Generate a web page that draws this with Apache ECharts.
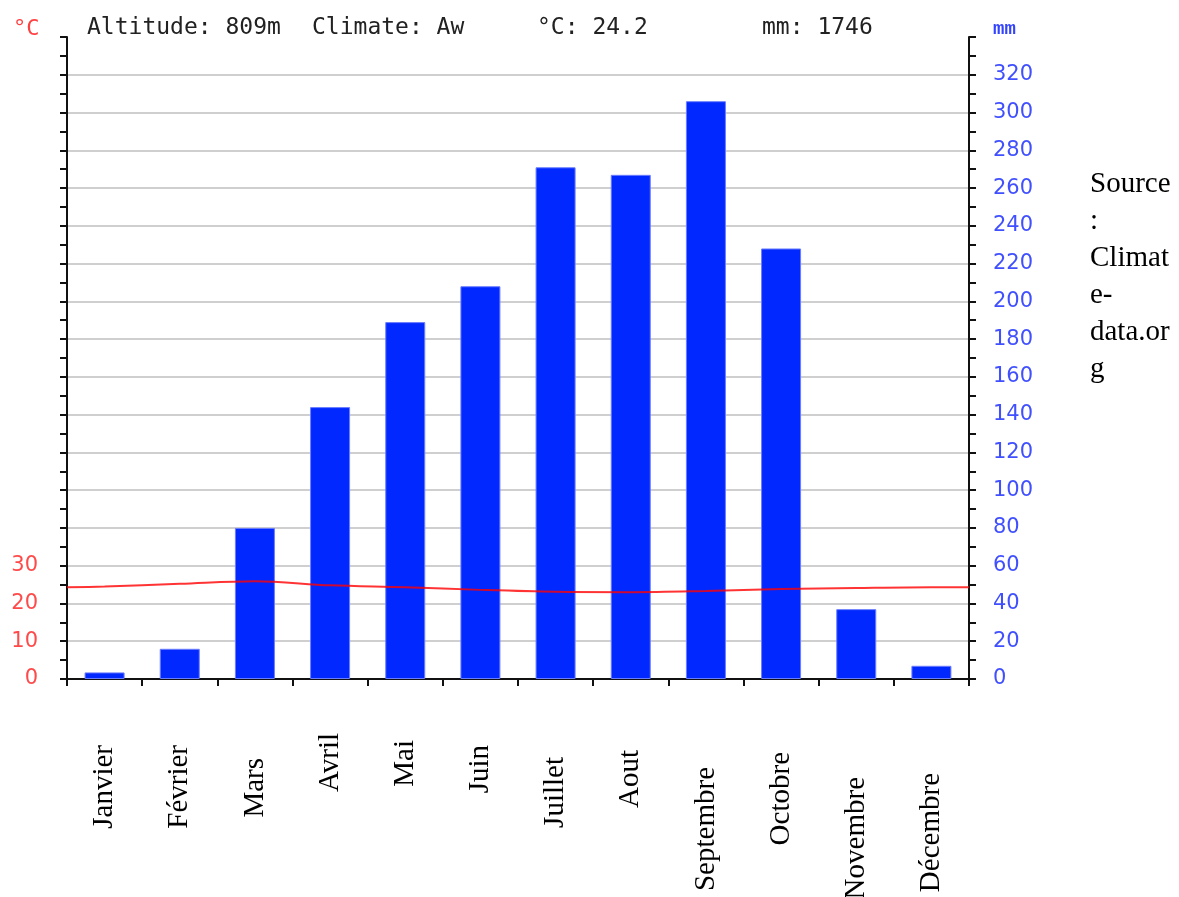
<!DOCTYPE html>
<html>
<head>
<meta charset="utf-8">
<script src="https://cdn.jsdelivr.net/npm/echarts@6/dist/echarts.min.js"></script>
<style>
html,body{margin:0;padding:0;background:#fff;}
#chart{width:1179px;height:897px;}
</style>
</head>
<body>
<div id="chart"></div>
<script>
// ---- data ----
const months = ['Janvier','Février','Mars','Avril','Mai','Juin','Juillet','Aout','Septembre','Octobre','Novembre','Décembre'];
const precipitation = [3.5, 16, 80, 144, 189, 208, 271, 267, 306, 228, 37, 7];
const temperature = [24.5, 25.2, 25.9, 24.8, 24.3, 23.6, 23.1, 23.0, 23.3, 23.8, 24.1, 24.3];
const temperatureAtEdges = [24.3, 24.3];
const tempTickLabels = [0, 10, 20, 30];
const mmTickLabels = [0,20,40,60,80,100,120,140,160,180,200,220,240,260,280,300,320];
const altitude = '809m';
const climate = 'Aw';
const meanTemp = '24.2';
const totalPrecip = '1746';
const sourceText = 'Source\n:\nClimat\ne-\ndata.or\ng';

// ---- label styling (top edge of each rotated month label, and x nudge) ----
const labelTopY   = [745,745,758,733,740,745,757,750,767,752,777,773];
const labelShiftX = [4,3,1,-8,0,-1,0,-4,0,-2,-4,-3];
const axisBottomY = 679;
const minTop = Math.min.apply(null, labelTopY);

const catData = months.map((m, i) => {
  const d = labelTopY[i] - minTop;
  const sx = labelShiftX[i];
  return {
    value: m,
    textStyle: {
      padding: [Math.max(0, 2*sx), d, Math.max(0, -2*sx), 0]
    }
  };
});

const lineData = [[0, temperatureAtEdges[0]]]
  .concat(temperature.map((t, i) => [i + 0.5, t]))
  .concat([[12, temperatureAtEdges[1]]]);

const chart = echarts.init(document.getElementById('chart'), null, {renderer: 'canvas'});

const headerFont = '23px "DejaVu Sans Mono"';
chart.setOption({
  animation: false,
  backgroundColor: '#ffffff',
  grid: {left: 67, right: 210, top: 37, bottom: 897 - axisBottomY, containLabel: false, outerBoundsMode: 'none'},
  xAxis: [
    {
      type: 'category',
      data: catData,
      boundaryGap: true,
      axisLine: {show: true, lineStyle: {color: '#111', width: 2}},
      axisTick: {show: true, length: 7, lineStyle: {color: '#111', width: 2}},
      axisLabel: {
        interval: 0,
        rotate: 90,
        margin: minTop - axisBottomY,
        fontFamily: '"Liberation Serif", "Times New Roman", serif',
        fontSize: 29,
        color: '#000'
      },
      splitLine: {show: false}
    },
    {type: 'value', min: 0, max: 12, show: false}
  ],
  yAxis: [
    {
      type: 'value', position: 'left', min: 0, max: 170, interval: 10,
      axisLine: {show: true, lineStyle: {color: '#111', width: 2}},
      axisTick: {show: true, length: 7, lineStyle: {color: '#111', width: 2}},
      minorTick: {show: true, splitNumber: 2, length: 7, lineStyle: {color: '#111', width: 2}},
      axisLabel: {
        margin: 29,
        fontFamily: '"DejaVu Sans", sans-serif',
        fontSize: 21,
        color: '#ff4a4a',
        showMaxLabel: false,
        formatter: v => tempTickLabels.includes(v) ? String(v) : ''
      },
      splitLine: {show: false}
    },
    {
      type: 'value', position: 'right', min: 0, max: 340, interval: 20,
      axisLine: {show: true, lineStyle: {color: '#111', width: 2}},
      axisTick: {show: true, length: 7, lineStyle: {color: '#111', width: 2}},
      minorTick: {show: true, splitNumber: 2, length: 7, lineStyle: {color: '#111', width: 2}},
      axisLabel: {
        margin: 24,
        fontFamily: '"DejaVu Sans", sans-serif',
        fontSize: 21,
        color: '#4050ff',
        showMaxLabel: false,
        formatter: v => mmTickLabels.includes(v) ? String(v) : ''
      },
      splitLine: {show: true, showMinLine: false, showMaxLine: false, lineStyle: {color: '#cfcfcf', width: 2}}
    }
  ],
  series: [
    {
      type: 'bar',
      xAxisIndex: 0,
      yAxisIndex: 1,
      data: precipitation,
      barWidth: 40,
      itemStyle: {color: '#0028ff', borderColor: '#6b7dff', borderWidth: 1}
    },
    {
      type: 'line',
      xAxisIndex: 1,
      yAxisIndex: 0,
      data: lineData,
      smooth: 0.35,
      symbol: 'none',
      lineStyle: {color: '#ff0000', width: 2, opacity: 0.8},
      z: 5
    }
  ],
  graphic: [
    {type: 'text', left: 13, top: 18, style: {text: '°C', font: '22px "DejaVu Sans Mono"', fill: '#ff4040'}},
    {type: 'text', left: 87, top: 17, style: {text: 'Altitude: ' + altitude, font: headerFont, fill: '#222'}},
    {type: 'text', left: 312, top: 17, style: {text: 'Climate: ' + climate, font: headerFont, fill: '#222'}},
    {type: 'text', left: 537, top: 17, style: {text: '°C: ' + meanTemp, font: headerFont, fill: '#222'}},
    {type: 'text', left: 762, top: 17, style: {text: 'mm: ' + totalPrecip, font: headerFont, fill: '#222'}},
    {type: 'text', left: 993, top: 20, style: {text: 'mm', font: 'bold 19px "Liberation Mono"', fill: '#3344ff'}},
    {type: 'text', left: 1090, top: 166, style: {text: sourceText, font: '29px "Liberation Serif"', lineHeight: 37, fill: '#000'}}
  ]
});
</script>
</body>
</html>
